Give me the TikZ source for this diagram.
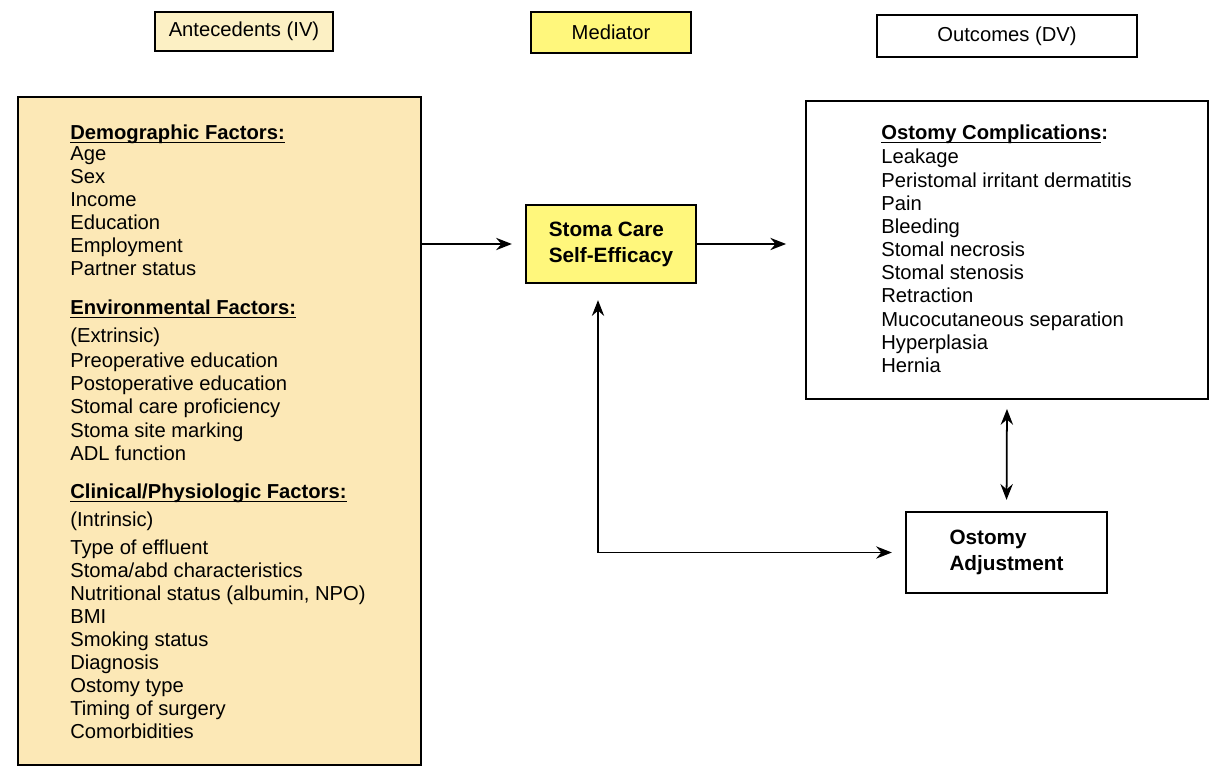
\documentclass[tikz,border=0pt]{standalone}
\usepackage{fontspec}
\setmainfont{Liberation Sans}
\usetikzlibrary{arrows.meta}
\definecolor{paleyellow}{HTML}{FCF0C4}
\definecolor{medyellow}{HTML}{FFF77C}
\definecolor{antefill}{HTML}{FCE8B6}
\newcommand{\undl}[1]{\setbox0\hbox{#1}\rlap{\rule[-1.9pt]{\wd0}{0.7pt}}\box0}
\tikzset{
  headbox/.style={draw, line width=1.1pt, font=\fontsize{11.5}{13}\selectfont},
  bigbox/.style={draw, line width=1.1pt},
  item/.style={anchor=base west, inner sep=0pt, font=\fontsize{11.5}{13}\selectfont},
  boldbox/.style={draw, line width=1.3pt, align=left, font=\fontsize{11.8}{14.8}\selectfont\bfseries},
  arr/.style={-{Stealth[length=9pt,width=7pt,inset=3pt]}, line width=1pt},
  arrboth/.style={{Stealth[length=9pt,width=7pt,inset=3pt]}-{Stealth[length=9pt,width=7pt,inset=3pt]}, line width=1pt}
}
\begin{document}
\begin{tikzpicture}[x=0.02cm, y=-0.02cm]
        \path[use as bounding box, fill=white] (0,0) rectangle (1210,766);
        % column heads
        \node[headbox, fill=paleyellow, minimum width=3.56cm, minimum height=0.78cm] (antehead) at (244,31.5) {Antecedents (IV)};
        \node[headbox, fill=medyellow, minimum width=3.2cm, minimum height=0.82cm] (medhead) at (611,32.5) {Mediator};
        \node[headbox, minimum width=5.2cm, minimum height=0.84cm] (outhead) at (1007,36) {Outcomes (DV)};
        % boxes
        \node[bigbox, fill=antefill, minimum width=8.06cm, minimum height=13.36cm] (ante) at (219.5,431) {};
        \node[boldbox, fill=medyellow, minimum width=3.4cm, minimum height=1.56cm] (stoma) at (611,244) {Stoma Care\\Self-Efficacy};
        \node[bigbox, minimum width=8.04cm, minimum height=5.96cm] (comp) at (1007,250) {};
        \node[boldbox, minimum width=4.02cm, minimum height=1.62cm] (adj) at (1006.5,552.5) {Ostomy\\Adjustment};
        % antecedents list
        \foreach \y/\t [count=\i] in {140/{\undl{\bfseries Demographic Factors:}}, 161/Age, 184/Sex, 207/Income, 230/Education, 253/Employment, 276/Partner status,
            315/{\undl{\bfseries Environmental Factors:}}, 343/(Extrinsic), 368/Preoperative education, 391/Postoperative education, 414/Stomal care proficiency, 438/Stoma site marking, 461/ADL function,
            499/{\undl{\bfseries Clinical/Physiologic Factors:}}, 526/(Intrinsic), 554/Type of effluent, 577/{Stoma/abd characteristics}, 600/{Nutritional status (albumin, NPO)}, 623/BMI, 646/Smoking status, 669/Diagnosis, 692/Ostomy type, 715/Timing of surgery, 738/Comorbidities}
          \node[item] (ante\i) at (70,\y) {\t};
        % complications list
        \foreach \y/\t [count=\i] in {140/{\undl{\bfseries Ostomy Complications}\textbf{:}}, 164/Leakage, 188/Peristomal irritant dermatitis, 211/Pain, 234/Bleeding, 257/Stomal necrosis, 280/Stomal stenosis, 303/Retraction, 327/Mucocutaneous separation, 350/Hyperplasia, 373/Hernia}
          \node[item] (comp\i) at (881,\y) {\t};
        % arrows
        \draw[arr, shorten >=0.26cm] (ante.east |- stoma.west) -- (stoma.west);
        \draw[arr, shorten >=0.38cm] (stoma.east) -- (comp.west |- stoma.east);
        \draw[arrboth, shorten <=0.18cm, shorten >=0.22cm] (comp.south) -- (adj.north);
        \draw[arrboth, shorten <=0.32cm, shorten >=0.26cm] ([xshift=-0.26cm]stoma.south) |- (adj.west);
      \end{tikzpicture}
\end{document}
